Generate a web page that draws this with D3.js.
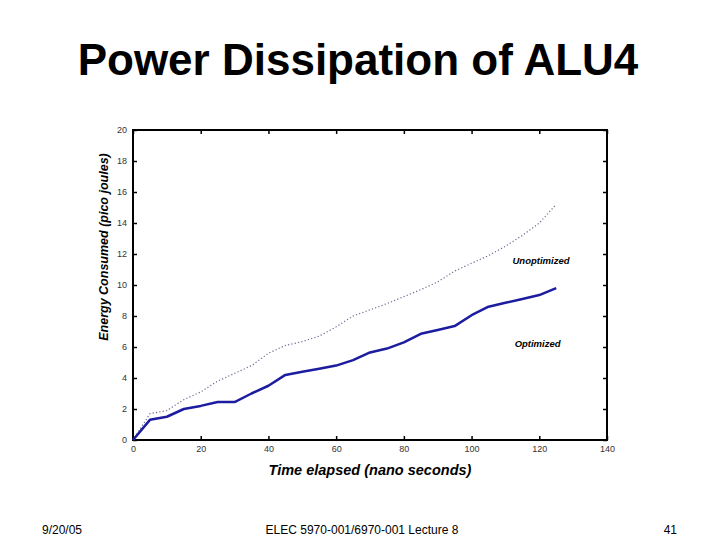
<!DOCTYPE html>
<html>
<head>
<meta charset="utf-8">
<script src="https://cdn.jsdelivr.net/npm/d3@7"></script>
<style>
  body { margin: 0; background: #fff; }
  svg { display: block; }
</style>
</head>
<body>
<div id="chart-area"></div>
<script>

// data
var times = [0, 5, 10, 15, 20, 25, 30, 35, 40, 45, 50, 55, 60, 65, 70, 75, 80, 85, 90, 95, 100, 105, 110, 115, 120, 125];
var optimized = [0, 1.3, 1.5, 2.0, 2.2, 2.45, 2.45, 3.0, 3.5, 4.2, 4.4, 4.6, 4.8, 5.15, 5.65, 5.9, 6.3, 6.85, 7.1, 7.35, 8.05, 8.6, 8.85, 9.1, 9.35, 9.8];
var unoptimized = [0, 1.7, 1.9, 2.6, 3.1, 3.8, 4.3, 4.8, 5.6, 6.1, 6.35, 6.7, 7.3, 8.0, 8.4, 8.8, 9.25, 9.7, 10.2, 10.9, 11.4, 11.9, 12.5, 13.2, 14.0, 15.2];
var xTicks = [0, 20, 40, 60, 80, 100, 120, 140];
var yTicks = [0, 2, 4, 6, 8, 10, 12, 14, 16, 18, 20];

var W = 720, H = 540;
var margin = {top: 130, right: 113, bottom: 100, left: 133};
var width = W - margin.left - margin.right,
    height = H - margin.top - margin.bottom;

var svg = d3.select("#chart-area").append("svg")
    .attr("width", W)
    .attr("height", H);

// slide title
svg.append("text")
    .attr("x", 358)
    .attr("y", 75)
    .attr("text-anchor", "middle")
    .style("font-family", "Liberation Sans, Arial, sans-serif")
    .style("font-weight", "bold")
    .style("font-size", "44px")
    .text("Power Dissipation of ALU4");

var g = svg.append("g")
    .attr("transform", "translate(" + margin.left + "," + margin.top + ")");

var x = d3.scaleLinear().domain([0, 140]).range([0, width]);
var y = d3.scaleLinear().domain([0, 20]).range([height, 0]);

// axes, ticks pointing inward on all sides
var tickFont = function(sel) {
    sel.selectAll("text")
        .style("font-family", "Liberation Sans, Arial, sans-serif")
        .style("font-size", "9px")
        .attr("fill", "#333");
    sel.select(".domain").remove();
    sel.selectAll("line").attr("stroke", "#000").attr("stroke-width", 1.5);
};

g.append("g")
    .attr("transform", "translate(0," + height + ")")
    .call(d3.axisBottom(x).tickValues(xTicks).tickSizeInner(-4).tickSizeOuter(0).tickPadding(6))
    .call(tickFont);

g.append("g")
    .call(d3.axisLeft(y).tickValues(yTicks).tickSizeInner(-4).tickSizeOuter(0).tickPadding(6))
    .call(tickFont);

g.append("g")
    .call(d3.axisTop(x).tickValues(xTicks).tickSizeInner(-4).tickSizeOuter(0).tickFormat(""))
    .call(tickFont);

g.append("g")
    .attr("transform", "translate(" + width + ",0)")
    .call(d3.axisRight(y).tickValues(yTicks).tickSizeInner(-4).tickSizeOuter(0).tickFormat(""))
    .call(tickFont);

// frame
g.append("rect")
    .attr("width", width)
    .attr("height", height)
    .attr("fill", "none")
    .attr("stroke", "#000")
    .attr("stroke-width", 2);

var line = function(vals) {
    return d3.line()
        .x(function(d, i) { return x(times[i]); })
        .y(function(d) { return y(d); })(vals);
};

g.append("path")
    .attr("d", line(unoptimized))
    .attr("fill", "none")
    .attr("stroke", "#6a6a90")
    .attr("stroke-width", 1.2)
    .attr("stroke-dasharray", "1.2,2.2");

g.append("path")
    .attr("d", line(optimized))
    .attr("fill", "none")
    .attr("stroke", "#1c1ca0")
    .attr("stroke-width", 2.5)
    .attr("stroke-linejoin", "round");

// series labels
var lab = function(txt, xv, yv) {
    g.append("text")
        .attr("x", x(xv))
        .attr("y", y(yv))
        .attr("text-anchor", "middle")
        .style("font-family", "Liberation Sans, Arial, sans-serif")
        .style("font-weight", "bold")
        .style("font-style", "italic")
        .style("font-size", "9.5px")
        .text(txt);
};
lab("Unoptimized", 120.5, 11.35);
lab("Optimized", 119.5, 6.0);

// axis titles
g.append("text")
    .attr("x", x(70))
    .attr("y", height + 35)
    .attr("text-anchor", "middle")
    .style("font-family", "Liberation Sans, Arial, sans-serif")
    .style("font-weight", "bold")
    .style("font-style", "italic")
    .style("font-size", "14.5px")
    .text("Time elapsed (nano seconds)");

g.append("text")
    .attr("transform", "translate(-25,117) rotate(-90)")
    .attr("text-anchor", "middle")
    .style("font-family", "Liberation Sans, Arial, sans-serif")
    .style("font-weight", "bold")
    .style("font-style", "italic")
    .style("font-size", "12.5px")
    .text("Energy Consumed (pico joules)");

// footer
var foot = function(txt, xp, anchor) {
    svg.append("text")
        .attr("x", xp)
        .attr("y", 534)
        .attr("text-anchor", anchor)
        .style("font-family", "Liberation Sans Narrow, Arial Narrow, Liberation Sans, sans-serif")
        .style("font-size", "12px")
        .text(txt);
};
foot("9/20/05", 42, "start");
foot("ELEC 5970-001/6970-001 Lecture 8", 362, "middle");
foot("41", 677, "end");

</script>
</body>
</html>
